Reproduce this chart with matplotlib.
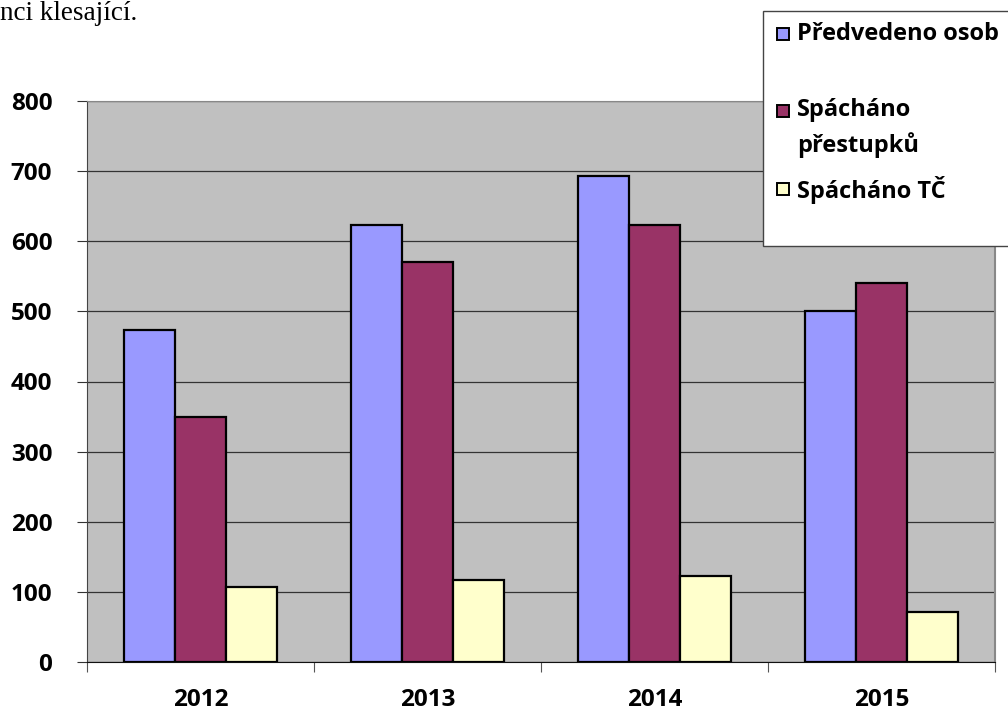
import numpy as np
import matplotlib.pyplot as plt
from matplotlib.patches import Rectangle

plt.rcdefaults()
plt.rcParams['font.family'] = ['Open Sans', 'DejaVu Sans']

years = ['2012', '2013', '2014', '2015']
predvedeno = [473, 623, 693, 501]
prestupky = [350, 570, 623, 541]
tc = [107, 117, 122, 72]

names = ['Předvedeno osob', 'Spácháno\npřestupků', 'Spácháno TČ']
colors = ['#9999FF', '#993366', '#FFFFCC']

W, H = 1008, 713
fig = plt.figure(figsize=(W / 100, H / 100), dpi=100)
ax = fig.add_axes([87 / W, 51 / H, 908 / W, 561 / H])
ax.set_facecolor('#C0C0C0')

x = np.arange(len(years))
w = 0.225
bars = []
for i, (vals, c) in enumerate(zip([predvedeno, prestupky, tc], colors)):
    b = ax.bar(x + (i - 1) * w, vals, w, color=c, edgecolor='black',
               linewidth=1.6, zorder=3)
    bars.append(b)

ax.set_xlim(-0.5, 3.5)
ax.set_ylim(0, 800)
ax.set_yticks(np.arange(0, 801, 100))
ax.set_xticks(np.arange(-0.5, 4, 1))
ax.set_xticklabels([])
ax.set_xticks(x, minor=True)
ax.set_xticklabels(years, minor=True, fontsize=17.5, fontweight='bold')
ax.tick_params(axis='x', which='major', length=7, direction='out', color='#555555')
ax.tick_params(axis='x', which='minor', length=0, pad=19)
ax.tick_params(axis='y', length=7, direction='out', color='#333333', pad=18,
               labelsize=17.5)
for lab in ax.get_yticklabels():
    lab.set_fontweight('bold')

ax.set_axisbelow(True)
ax.grid(axis='y', color='#333333', linewidth=0.9)
ax.spines['top'].set_color('#888888')
ax.spines['right'].set_color('#888888')
ax.spines['right'].set_linewidth(1.5)
ax.spines['left'].set_color('#444444')
ax.spines['bottom'].set_color('#111111')

# legend box (Excel style, runs off the right edge)
fig.add_artist(Rectangle((763 / W, 1 - 246 / H), 260 / W, 235 / H,
                         transform=fig.transFigure, facecolor='white',
                         edgecolor='#444444', linewidth=1.0, clip_on=False))
rows = [34, 111, 188.5]
for b, name, yy in zip(bars, names, rows):
    fig.add_artist(Rectangle((777 / W, 1 - (yy + 6) / H), 12 / W, 12 / H,
                             transform=fig.transFigure,
                             facecolor=b.patches[0].get_facecolor(),
                             edgecolor='black', linewidth=1.4))
    fig.text(797 / W, 1 - (yy - 12.5) / H, name, fontsize=17, fontweight='bold',
             va='top', ha='left', linespacing=1.5)

fig.text(0.0, 1 - 20 / H, 'nci klesající.', fontsize=19.5,
         family='Liberation Serif', va='baseline', ha='left')

fig.savefig('out.png', dpi=100)
